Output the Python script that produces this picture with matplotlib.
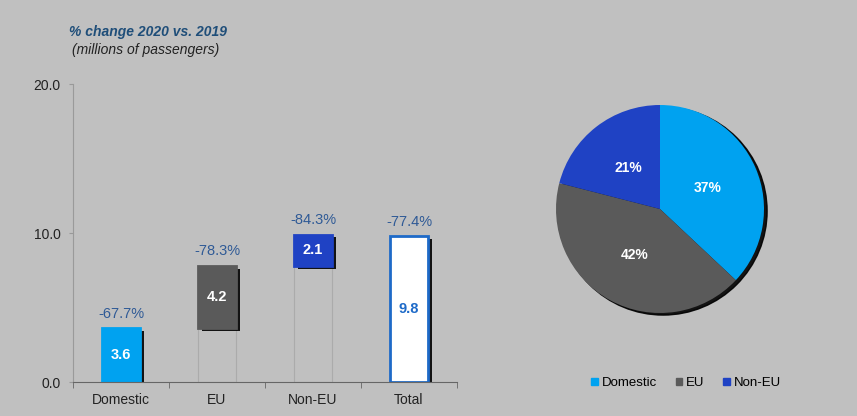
import matplotlib.pyplot as plt
import matplotlib.patheffects as pe
from matplotlib.patches import Patch, Circle

# passengers 2020 (millions) and change vs 2019
categorias = ['Domestic', 'EU', 'Non-EU', 'Total']
passageiros = [3.6, 4.2, 2.1, 9.8]
variacao = ['-67.7%', '-78.3%', '-84.3%', '-77.4%']

# share of total 2020 traffic
fatias = ['Domestic', 'EU', 'Non-EU']
participacao = [37, 42, 21]

azul_claro = '#00A2F0'
cinza = '#5A5A5A'
azul = '#1F42C4'
azul_total = '#1E6AC8'
fundo = '#C0C0C0'

plt.rcParams['font.family'] = ['Liberation Sans', 'DejaVu Sans']

fig = plt.figure(figsize=(8.57, 4.16), dpi=100)
fig.patch.set_facecolor(fundo)

# cascade: each flow bar starts where the previous one ended
bases = [0, passageiros[0], passageiros[0] + passageiros[1], 0]
cores = [azul_claro, cinza, azul, 'white']
bordas = [azul_claro, cinza, azul, azul_total]
cores_valor = ['white', 'white', 'white', azul_total]

ax = fig.add_axes([0.0852, 0.0817, 0.448, 0.716])
ax.set_facecolor(fundo)
x = range(len(categorias))

# thin guide lines below the floating bars
ax.bar(x, bases, width=0.39, fill=False, edgecolor='#ABABAB', linewidth=0.8)

sombra = [pe.SimplePatchShadow(offset=(3, -2), shadow_rgbFace='black', alpha=0.9), pe.Normal()]
barras = ax.bar(x, passageiros, bottom=bases, width=0.39, color=cores,
                edgecolor=bordas, linewidth=2)
for b in barras:
    b.set_path_effects(sombra)

for i in x:
    ax.text(i, bases[i] + passageiros[i] / 2, f'{passageiros[i]:.1f}', ha='center', va='center',
            color=cores_valor[i], fontsize=10.5, fontweight='bold')
    ax.text(i, bases[i] + passageiros[i] + 0.5, variacao[i], ha='center', va='bottom',
            color='#2F5A96', fontsize=10.5)

ax.set_xlim(-0.5, 3.5)
ax.set_ylim(0, 20)
ax.set_yticks([0, 10, 20])
ax.set_yticklabels(['0.0', '10.0', '20.0'], fontsize=10, color='#222222')
ax.set_xticks(list(x))
ax.set_xticklabels(categorias, fontsize=10, color='#222222')
ax.tick_params(axis='x', which='major', length=0, pad=8)
ax.set_xticks([-0.5, 0.5, 1.5, 2.5, 3.5], minor=True)
ax.tick_params(axis='x', which='minor', length=4, color='#666666')
ax.tick_params(axis='y', length=3, color='#999999', pad=6)
for s in ['top', 'right']:
    ax.spines[s].set_visible(False)
ax.spines['left'].set_color('#9A9A9A')
ax.spines['bottom'].set_color('#666666')

fig.text(0.0805, 0.913, '% change 2020 vs. 2019', fontsize=10, fontweight='bold',
         fontstyle='italic', color='#1F4E79')
fig.text(0.084, 0.870, '(millions of passengers)', fontsize=10, fontstyle='italic',
         color='#222222')

# pie of 2020 shares
ax2 = fig.add_axes([556 / 857, 103 / 416, 208 / 857, 208 / 416])
ax2.set_facecolor(fundo)
ax2.add_patch(Circle((0.03, -0.02), 1, color='black', alpha=0.9, zorder=0, clip_on=False))
fatias_pie, textos = ax2.pie(participacao, colors=[azul_claro, cinza, azul], startangle=90,
                             counterclock=False, labels=[f'{p}%' for p in participacao],
                             labeldistance=0.5, wedgeprops=dict(linewidth=0))
for t in textos:
    t.set_color('white')
    t.set_fontweight('bold')
    t.set_fontsize(10)
    t.set_ha('center')
    t.set_va('center')
ax2.set_xlim(-1, 1)
ax2.set_ylim(-1, 1)
ax2.set_aspect('equal')

fig.legend(handles=[Patch(color=c, label=l) for c, l in zip([azul_claro, cinza, azul], fatias)],
           loc='center', bbox_to_anchor=(686 / 857, 1 - 383 / 416), ncol=3, frameon=False,
           fontsize=9.5, handlelength=0.5, handleheight=0.5, handletextpad=0.3, columnspacing=1.4)

fig.savefig('out.png', dpi=100, facecolor=fundo)
